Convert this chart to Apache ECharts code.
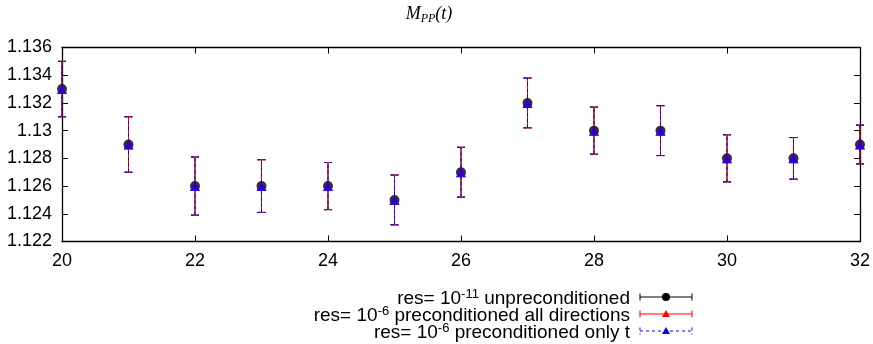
<!DOCTYPE html>
<html><head><meta charset="utf-8">
<script src="https://cdn.jsdelivr.net/npm/echarts@6/dist/echarts.min.js"></script>
<style>html,body{margin:0;padding:0;background:#fff}#c{width:873px;height:344px}</style>
</head><body><div id="c"></div>
<script>
const tValues = [20,21,22,23,24,25,26,27,28,29,30,31,32];
const mUnprec = [1.133,1.129,1.126,1.126,1.126,1.125,1.127,1.132,1.130,1.130,1.128,1.128,1.129];
const eUnprec = [0.002,0.002,0.0021,0.0019,0.0017,0.0018,0.0018,0.0018,0.0017,0.0018,0.0017,0.0015,0.0014];
const mPrecAll = [1.133,1.129,1.126,1.126,1.126,1.125,1.127,1.132,1.130,1.130,1.128,1.128,1.129];
const ePrecAll = [0.002,0.002,0.0021,0.0019,0.0017,0.0018,0.0018,0.0018,0.0017,0.0018,0.0017,0.0015,0.0014];
const mPrecT = [1.133,1.129,1.126,1.126,1.126,1.125,1.127,1.132,1.130,1.130,1.128,1.128,1.129];
const ePrecT = [0.002,0.002,0.0021,0.0019,0.0017,0.0018,0.0018,0.0018,0.0017,0.0018,0.0017,0.0015,0.0014];
const xTicks = [20,22,24,26,28,30,32];
const yTicks = [1.122,1.124,1.126,1.128,1.13,1.132,1.134,1.136];

const chart = echarts.init(document.getElementById('c'), null, {renderer:'canvas'});
const F = 'Liberation Sans, Arial, sans-serif';

function errData(m, e){ return tValues.map((t,i)=>[t, m[i]-e[i], m[i]+e[i]]); }
function errSeries(name, m, e, color, dashed, z){
  return {
    type:'custom', name, z, clip:false,
    data: errData(m,e),
    renderItem: function(params, api){
      const x = api.value(0);
      const lo = api.coord([x, api.value(1)]);
      const hi = api.coord([x, api.value(2)]);
      const st = {stroke:color, lineWidth:1, lineDash: dashed ? [3,3] : null};
      const w = 4;
      return {type:'group', children:[
        {type:'line', shape:{x1:lo[0],y1:lo[1],x2:hi[0],y2:hi[1]}, style:st},
        {type:'line', shape:{x1:lo[0]-w,y1:lo[1],x2:lo[0]+w,y2:lo[1]}, style:st},
        {type:'line', shape:{x1:hi[0]-w,y1:hi[1],x2:hi[0]+w,y2:hi[1]}, style:st}
      ]};
    }
  };
}
function pts(m){ return tValues.map((t,i)=>[t,m[i]]); }

const fmtY = v => parseFloat(v.toFixed(3)).toString();

// legend (graphic)
const legRight = 630, sx1 = 640, sx2 = 692;
const legY = [297, 314, 331];
const legTexts = [
  ['-11',' unpreconditioned'],
  ['-6',' preconditioned all directions'],
  ['-6',' preconditioned only t']
];
const legColors = ['#000','#ff0000','#0000ff'];
const graphics = [];
legTexts.forEach((lt,i)=>{
  graphics.push({type:'text', x:legRight, y:legY[i]+1, style:{
    text:'{n|res= 10}{s|'+lt[0]+'}{n|'+lt[1]+'}',
    align:'right', verticalAlign:'middle',
    rich:{ n:{fontFamily:F,fontSize:19,fill:'#000',lineHeight:20,verticalAlign:'bottom',padding:[9,0,0,0]},
           s:{fontFamily:F,fontSize:13,fill:'#000',lineHeight:14,verticalAlign:'top',padding:[0,0,16,0]} }
  }});
  const st = {stroke:legColors[i], lineWidth:1, lineDash: i===2?[3,3]:null};
  const y = legY[i];
  graphics.push({type:'line', shape:{x1:sx1,y1:y,x2:sx2,y2:y}, style:st});
  graphics.push({type:'line', shape:{x1:sx1,y1:y-3.5,x2:sx1,y2:y+3.5}, style:st});
  graphics.push({type:'line', shape:{x1:sx2,y1:y-3.5,x2:sx2,y2:y+3.5}, style:st});
  const mx = (sx1+sx2)/2;
  if(i===0) graphics.push({type:'circle', shape:{cx:mx,cy:y,r:4}, style:{fill:'#000'}});
  else graphics.push({type:'polygon', shape:{points:[[mx,y-4],[mx-4,y+3],[mx+4,y+3]]}, style:{fill:legColors[i]}});
});
graphics.push({type:'text', x:429, y:15, style:{
  text:'{i|M}{s|PP}{i|(t)}', align:'center', verticalAlign:'middle',
  rich:{ i:{fontFamily:'Liberation Serif, serif',fontStyle:'italic',fontSize:18,fill:'#000',lineHeight:20,verticalAlign:'top'},
         s:{fontFamily:'Liberation Serif, serif',fontStyle:'italic',fontSize:12,fill:'#000',lineHeight:20,verticalAlign:'bottom',padding:[6,0,0,0]} }
}});

const axisLine = {show:true, lineStyle:{color:'#000', width:1.3}};
chart.setOption({
  animation:false,
  backgroundColor:'#fff',
  grid:{left:62, right:13, top:47.5, bottom:102.5, containLabel:false},
  xAxis:[{
    type:'value', min:20, max:32, interval:2, position:'bottom',
    axisLine, axisTick:{show:true, inside:true, length:6, lineStyle:{color:'#000'}},
    splitLine:{show:false},
    axisLabel:{fontFamily:F, fontSize:18, color:'#000', margin:11,
      customValues: xTicks}
  },{
    type:'value', min:20, max:32, interval:2, position:'top',
    axisLine, axisTick:{show:true, inside:true, length:6, lineStyle:{color:'#000'}},
    axisLabel:{show:false}, splitLine:{show:false}
  }],
  yAxis:[{
    type:'value', min:1.122, max:1.136, interval:0.002, position:'left',
    axisLine, axisTick:{show:true, inside:true, length:6, lineStyle:{color:'#000'}},
    splitLine:{show:false},
    axisLabel:{fontFamily:F, fontSize:18, color:'#000', margin:10, formatter:fmtY}
  },{
    type:'value', min:1.122, max:1.136, interval:0.002, position:'right',
    axisLine, axisTick:{show:true, inside:true, length:6, lineStyle:{color:'#000'}},
    axisLabel:{show:false}, splitLine:{show:false}
  }],
  graphic: graphics,
  series:[
    errSeries('res= 10^-11 unpreconditioned', mUnprec, eUnprec, '#000', false, 2),
    errSeries('res= 10^-6 preconditioned all directions', mPrecAll, ePrecAll, '#ff0000', false, 3),
    errSeries('res= 10^-6 preconditioned only t', mPrecT, ePrecT, '#0000ff', true, 4),
    {type:'scatter', data:pts(mUnprec), symbol:'circle', symbolSize:10, itemStyle:{color:'#000'}, z:5, clip:false},
    {type:'scatter', data:pts(mPrecAll), symbol:'triangle', symbolSize:10, itemStyle:{color:'#ff0000'}, z:6, clip:false},
    {type:'scatter', data:pts(mPrecT), symbol:'triangle', symbolSize:10, itemStyle:{color:'#0000ff'}, z:7, clip:false}
  ]
});
</script></body></html>
